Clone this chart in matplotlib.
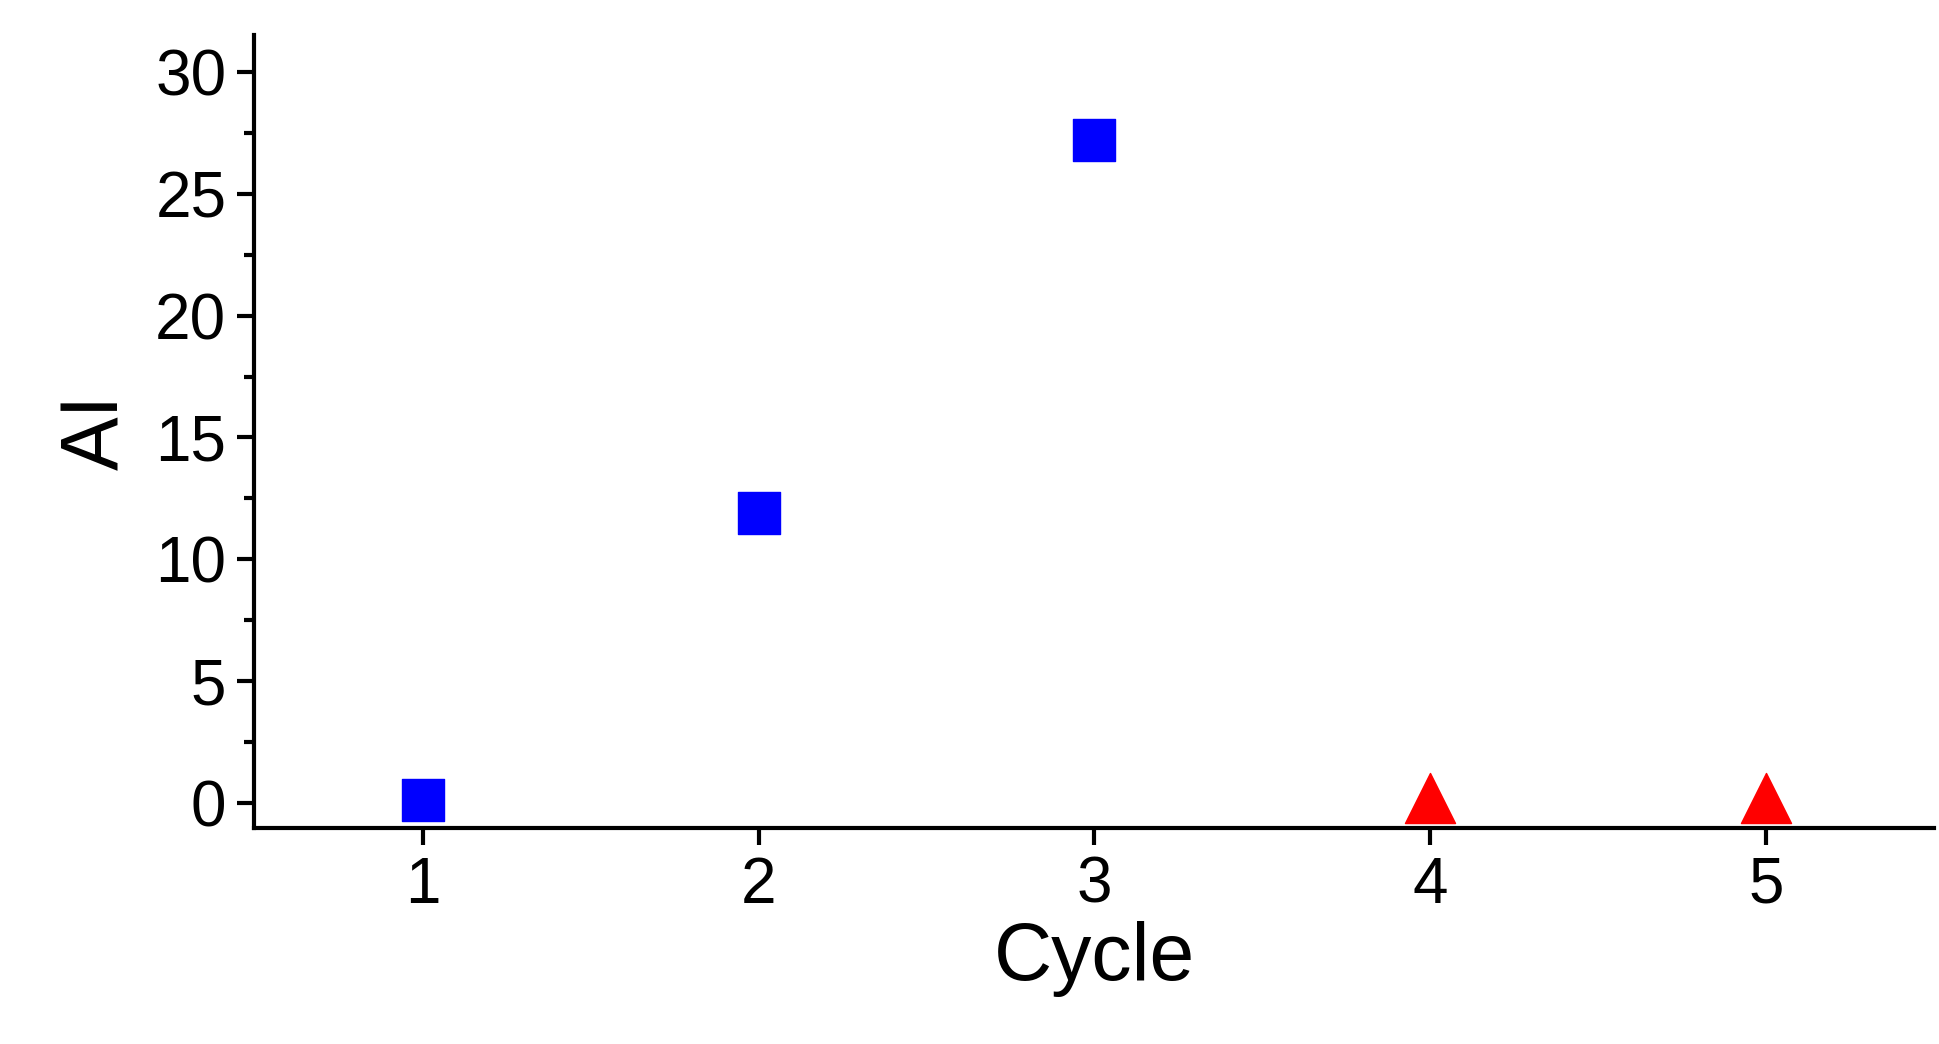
import matplotlib
matplotlib.use("Agg")
import matplotlib.pyplot as plt
from matplotlib.ticker import MultipleLocator

blue_x = [1, 2, 3]
blue_y = [0.1, 11.9, 27.2]
red_x = [4, 5]
red_y = [0.2, 0.2]
xticks = [1, 2, 3, 4, 5]

plt.rcParams['font.family'] = ['Liberation Sans', 'DejaVu Sans']
fig = plt.figure(figsize=(19.4, 10.44), dpi=100)
ax = fig.add_axes([0.131, 0.207, 0.866, 0.759])
ax.scatter(blue_x, blue_y, marker='s', s=900, color='#0000ff', zorder=3)
ax.scatter(red_x, red_y, marker='^', s=1300, color='#ff0000', zorder=3)
ax.set_xlim(0.498, 5.5)
ax.set_ylim(-1.03, 31.5)
ax.set_xticks(xticks)
ax.yaxis.set_major_locator(MultipleLocator(5))
ax.yaxis.set_minor_locator(MultipleLocator(2.5))
for s in ['top', 'right']:
    ax.spines[s].set_visible(False)
for s in ['left', 'bottom']:
    ax.spines[s].set_linewidth(3)
ax.tick_params(axis='both', which='major', direction='out', length=12, width=3, labelsize=46, pad=8)
ax.tick_params(axis='y', which='minor', direction='out', length=7, width=3)
ax.set_xlabel('Cycle', fontsize=58, labelpad=4)
ax.set_ylabel('AI', fontsize=58, labelpad=14)
fig.savefig('out.png', dpi=100)
